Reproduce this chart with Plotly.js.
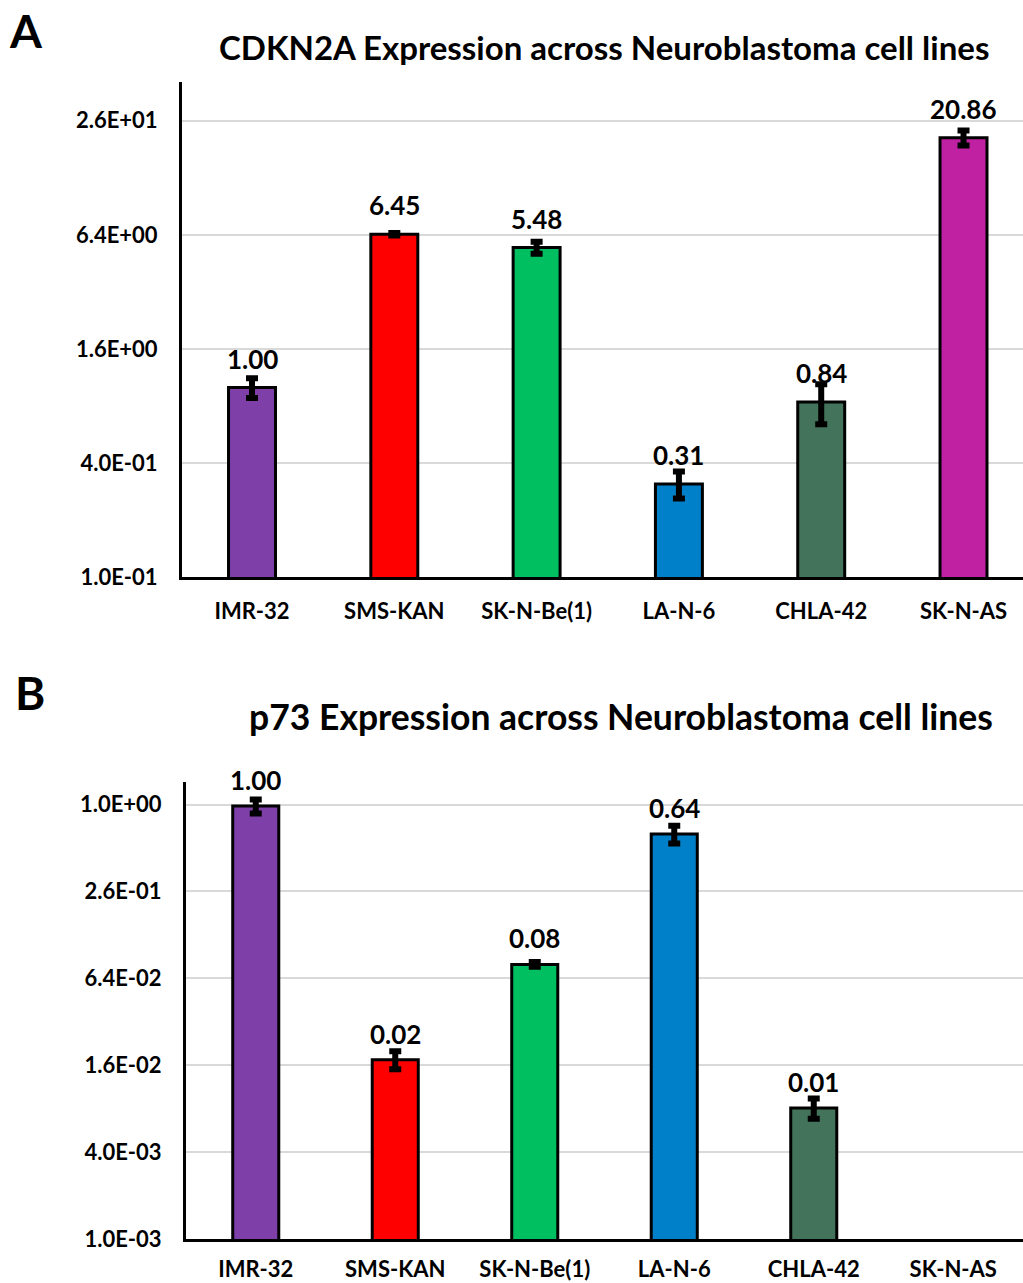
<!DOCTYPE html>
<html>
<head>
<meta charset="utf-8">
<script src="https://cdn.plot.ly/plotly-3.0.1.min.js"></script>
<style>html,body{margin:0;padding:0;background:#fff;}#chart{width:1023px;height:1283px;}</style>
</head>
<body>
<div id="chart"></div>
<script>
// ---- data ----
const cellLines = ["IMR-32", "SMS-KAN", "SK-N-Be(1)", "LA-N-6", "CHLA-42", "SK-N-AS"];
const barColors = ["#7E3FA9", "#FF0000", "#00BF60", "#0080C9", "#43735A", "#C021A3"];

const cdkn2aValues = [1.00, 6.45, 5.48, 0.31, 0.84, 20.86];
const cdkn2aErrors = [0.12, 0.10, 0.40, 0.05, 0.20, 1.9];
const cdkn2aTickVals = [0.1, 0.4, 1.6, 6.4, 25.6];
const cdkn2aTickText = ["1.0E-01", "4.0E-01", "1.6E+00", "6.4E+00", "2.6E+01"];

const p73Values = [1.00, 0.0175, 0.080, 0.64, 0.0081, null];
const p73Errors = [0.11, 0.0025, 0.003, 0.09, 0.0013, null];
const p73TickVals = [0.001, 0.004, 0.016, 0.064, 0.256, 1.024];
const p73TickText = ["1.0E-03", "4.0E-03", "1.6E-02", "6.4E-02", "2.6E-01", "1.0E+00"];

const titleA = "CDKN2A Expression across Neuroblastoma cell lines";
const titleB = "p73 Expression across Neuroblastoma cell lines";

// ---- chart ----
const FONT = "Lato, 'Open Sans', sans-serif";
const H = 1283, W = 1023;

function barTrace(vals, errs, xa, ya) {
  return {
    type: "bar", x: cellLines, y: vals, xaxis: xa, yaxis: ya,
    width: 0.33,
    marker: { color: barColors, line: { color: "#000", width: 3 } },
    error_y: { type: "data", array: errs, visible: true, color: "#000", thickness: 6, width: 6 },
    hoverinfo: "x+y", showlegend: false
  };
}

const traces = [
  barTrace(cdkn2aValues, cdkn2aErrors, "x", "y"),
  barTrace(p73Values, p73Errors, "x2", "y2")
];

const annotations = [];
function addLabels(vals, xref, yref, shift) {
  vals.forEach((v, i) => {
    if (v === null) return;
    annotations.push({
      x: cellLines[i], y: Math.log10(v), xref: xref, yref: yref,
      text: v.toFixed(2), showarrow: false, yanchor: "middle", yshift: shift,
      font: { family: FONT, size: 26, color: "#000", weight: "bold" }
    });
  });
}
addLabels(cdkn2aValues, "x", "y", 29);
addLabels(p73Values, "x2", "y2", 26);

annotations.push(
  { text: "A", xref: "paper", yref: "paper", x: 26 / W, y: 1 - 30 / H, xanchor: "center", yanchor: "middle",
    showarrow: false, font: { family: FONT, size: 46, color: "#000", weight: "bold" } },
  { text: "B", xref: "paper", yref: "paper", x: 30 / W, y: 1 - 692 / H, xanchor: "center", yanchor: "middle",
    showarrow: false, font: { family: FONT, size: 46, color: "#000", weight: "bold" } },
  { text: titleA, xref: "paper", yref: "paper", x: 604 / W, y: 1 - 47 / H, xanchor: "center", yanchor: "middle",
    showarrow: false, font: { family: FONT, size: 33, color: "#000", weight: "bold" } },
  { text: titleB, xref: "paper", yref: "paper", x: 621 / W, y: 1 - 716 / H, xanchor: "center", yanchor: "middle",
    showarrow: false, font: { family: FONT, size: 35.5, color: "#000", weight: "bold" } }
);

const xCommon = {
  type: "category", categoryorder: "array", categoryarray: cellLines,
  showline: true, linecolor: "#000", linewidth: 3, ticks: "", showgrid: false, zeroline: false,
  tickfont: { family: FONT, size: 22, color: "#000", weight: "bold" }, fixedrange: true
};
const yCommon = {
  type: "log", showline: true, linecolor: "#000", linewidth: 3, ticks: "",
  showgrid: true, gridcolor: "#D9D9D9", gridwidth: 2, zeroline: false,
  tickmode: "array", tickfont: { family: FONT, size: 22, color: "#000", weight: "bold" },
  ticklabelstandoff: 17, fixedrange: true
};

const layout = {
  width: W, height: H,
  margin: { l: 0, r: 0, t: 0, b: 0 },
  paper_bgcolor: "#fff", plot_bgcolor: "#fff",
  xaxis: Object.assign({}, xCommon, {
    domain: [182 / W, 1], anchor: "y", range: [-0.492, 5.418], ticklabelstandoff: 13
  }),
  yaxis: Object.assign({}, yCommon, {
    domain: [1 - 577 / H, 1 - 82 / H], anchor: "x",
    range: [-1, 1.613], tickvals: cdkn2aTickVals, ticktext: cdkn2aTickText
  }),
  xaxis2: Object.assign({}, xCommon, {
    domain: [186 / W, 1], anchor: "y2", range: [-0.5, 5.5], ticklabelstandoff: 9
  }),
  yaxis2: Object.assign({}, yCommon, {
    domain: [1 - 1239 / H, 1 - 782 / H], anchor: "x2",
    range: [-3, 0.167], tickvals: p73TickVals, ticktext: p73TickText
  }),
  annotations: annotations
};

Plotly.newPlot("chart", traces, layout, { displayModeBar: false, staticPlot: true });
</script>
</body>
</html>
